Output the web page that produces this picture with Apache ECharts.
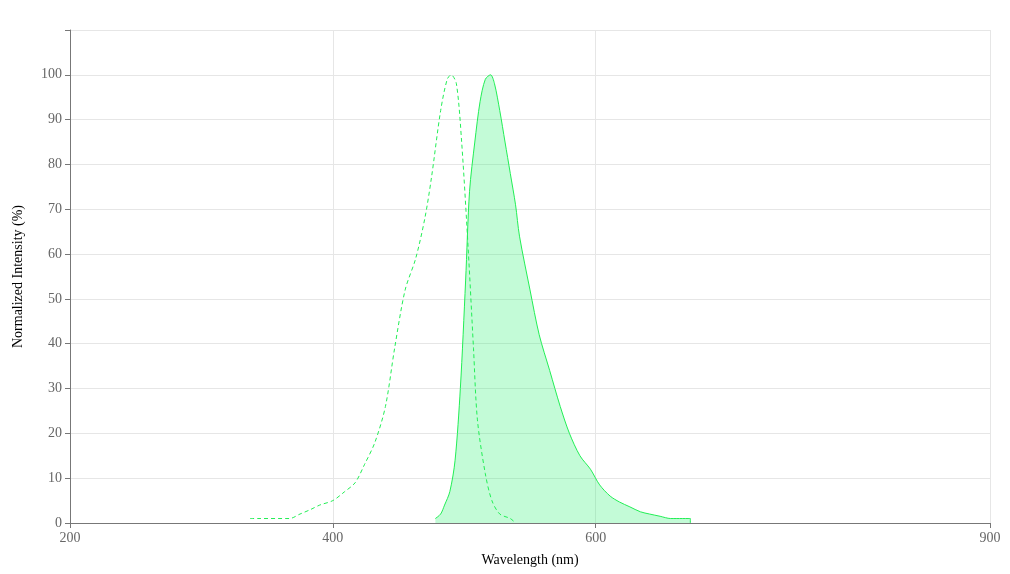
<!DOCTYPE html>
<html><head><meta charset="utf-8">
<script src="https://cdn.jsdelivr.net/npm/echarts@6/dist/echarts.min.js"></script>
<style>html,body{margin:0;padding:0;background:#fff}#c{width:1010px;height:574px}</style>
</head><body><div id="c"></div>
<script>
const exWavelength = [337,343,367,375,383,390,400,409,417,424,432,440,447,455,463,470,475,482,487,490,494,498,503,507,510,516,521,527,535,539];
const exIntensity  = [1,1,1,2,3,4,5,7,9,13,18,26,39,52,59,68,77,92,99,100,98,85,61,39,23,11,5,2,1,0];
const emWavelength = [478,482,485,489,493,497,501,504,508,512,516,520,523,527,531,535,539,542,550,557,565,573,580,588,596,603,611,618,626,634,641,649,657,672,672];
const emIntensity  = [1,2,4,7,14,30,54,74,85,94,99,100,98,92,85,78,71,64,52,42,34,26,20,15,12,8.5,6,4.7,3.6,2.5,2,1.5,1,1,0];
const xTicks = [200,400,600,900];
const zip=(a,b)=>a.map((v,i)=>[v,b[i]]);
const font='"Liberation Serif", "DejaVu Serif", serif';
const chart=echarts.init(document.getElementById('c'));
chart.setOption({
  animation:false,
  grid:{left:70,right:20,top:30,bottom:51},
  xAxis:{type:'value',min:200,max:900,name:'Wavelength (nm)',nameLocation:'middle',nameGap:30,
    nameTextStyle:{color:'#000',fontSize:14,fontFamily:font},
    axisLine:{lineStyle:{color:'#777'}},axisTick:{show:true,customValues:xTicks,lineStyle:{color:'#777'}},
    axisLabel:{color:'#666',fontSize:14,fontFamily:font,customValues:xTicks},
    splitLine:{show:true,lineStyle:{color:'#e6e6e6'}}},
  yAxis:{type:'value',min:0,max:110,interval:10,name:'Normalized Intensity (%)',nameLocation:'middle',nameGap:45,
    nameTextStyle:{color:'#000',fontSize:14,fontFamily:font},
    axisLine:{show:true,lineStyle:{color:'#777'}},axisTick:{show:true,lineStyle:{color:'#777'}},
    axisLabel:{color:'#666',fontSize:14,fontFamily:font,formatter:v=>v>100?'':v},
    splitLine:{show:true,lineStyle:{color:'#e6e6e6'}}},
  series:[
    {type:'line',data:zip(exWavelength,exIntensity),smooth:0.3,showSymbol:false,
     lineStyle:{color:'#22ee55',width:1,type:[4,3]}},
    {type:'line',data:zip(emWavelength,emIntensity),smooth:0.3,showSymbol:false,
     lineStyle:{color:'#22ee55',width:1},areaStyle:{color:'rgba(40,240,110,0.4)'}}
  ]
});
</script></body></html>
